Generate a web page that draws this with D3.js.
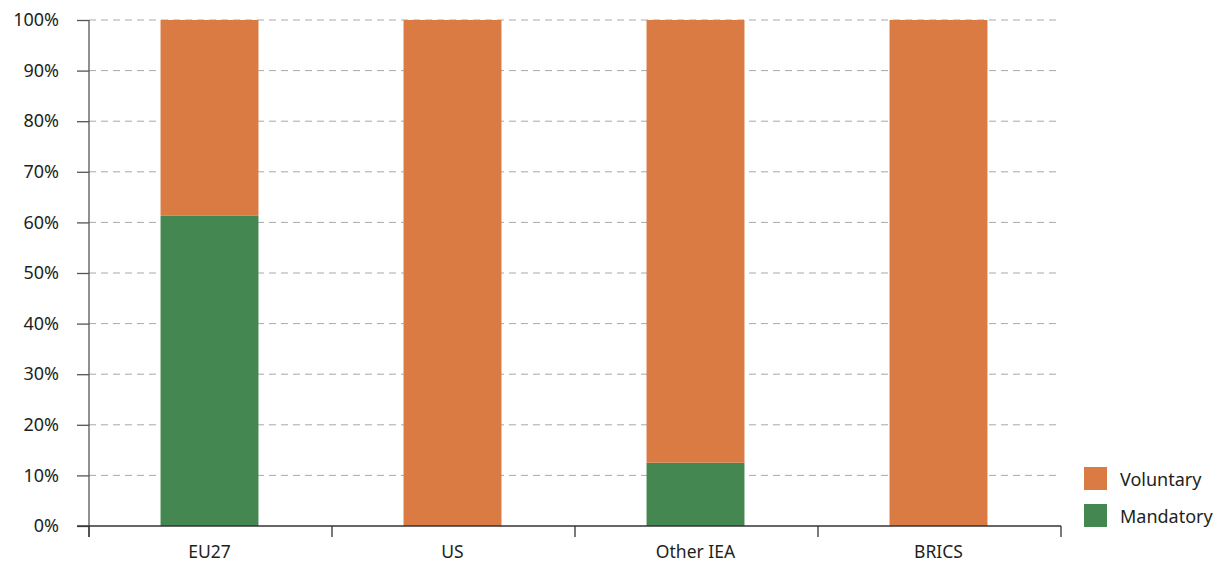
<!DOCTYPE html>
<html><head><meta charset="utf-8">
<script src="https://cdn.jsdelivr.net/npm/d3@7"></script>
<style>body{margin:0;background:#fff;} text{font-family:"Noto Sans",sans-serif;fill:#231f20;}</style>
</head><body><svg id="c" width="1217" height="562"></svg>
<script>
const categories = ["EU27","US","Other IEA","BRICS"];
const mandatory = [61.3, 0, 12.5, 0];
const voluntary = [38.7, 100, 87.5, 100];
const seriesNames = ["Voluntary","Mandatory"];
const yTicks = [0,10,20,30,40,50,60,70,80,90,100];
const colors = {Voluntary:"#D97B42", Mandatory:"#458751"};

const svg = d3.select("#c");
const L=89, R=1061, T=20, B=526;
const x = d3.scaleBand().domain(categories).range([L,R]).padding(0);
const y = d3.scaleLinear().domain([0,100]).range([B,T]);

// gridlines
svg.append("g").selectAll("line").data(yTicks.filter(d=>d>0)).join("line")
  .attr("x1",L).attr("x2",R).attr("y1",d=>y(d)).attr("y2",d=>y(d))
  .attr("stroke","#a7a9ac").attr("stroke-width",1).attr("stroke-dasharray","7,5");

const bw = x.bandwidth()*0.403;
const data = categories.map((c,i)=>({c, m:mandatory[i], v:voluntary[i]}));
const g = svg.append("g");
const bx = d=>x(d.c)+x.bandwidth()/2-bw/2-1;
g.selectAll("rect.m").data(data).join("rect").attr("class","m")
  .attr("x",bx).attr("width",bw)
  .attr("y",d=>y(d.m)).attr("height",d=>B-y(d.m)).attr("fill",colors.Mandatory);
g.selectAll("rect.v").data(data).join("rect").attr("class","v")
  .attr("x",bx).attr("width",bw)
  .attr("y",d=>y(d.m+d.v)).attr("height",d=>y(d.m)-y(d.m+d.v)).attr("fill",colors.Voluntary);

// y axis
const ya = svg.append("g").attr("transform",`translate(${L},0)`)
  .call(d3.axisLeft(y).tickValues(yTicks).tickFormat(d=>d+"%").tickSize(12).tickPadding(18));
ya.select(".domain").attr("stroke","#555").attr("stroke-width",1.3).attr("d",`M0,${B+11}V${T}`);
ya.selectAll(".tick line").attr("stroke","#555").attr("stroke-width",1.3);
ya.selectAll("text").style("font-size","18px").attr("fill","#231f20");

// x axis
const xa = svg.append("g").attr("transform",`translate(0,${B})`);
xa.append("line").attr("x1",L-12).attr("x2",R).attr("stroke","#333").attr("stroke-width",1.3);
const bounds = categories.map(c=>x(c)).concat([R]);
xa.selectAll("line.t").data(bounds).join("line").attr("class","t")
  .attr("x1",d=>d).attr("x2",d=>d).attr("y1",0).attr("y2",11).attr("stroke","#333").attr("stroke-width",1.3);
xa.selectAll("text").data(categories).join("text")
  .attr("x",d=>x(d)+x.bandwidth()/2-1).attr("y",32).attr("text-anchor","middle")
  .style("font-size","17.5px").text(d=>d);

// legend
const lg = svg.append("g").attr("transform","translate(1084,467)");
seriesNames.forEach((s,i)=>{
  lg.append("rect").attr("x",0).attr("y",i*37).attr("width",23).attr("height",23).attr("fill",colors[s]);
  lg.append("text").attr("x",36).attr("y",i*37+19).style("font-size","18px").text(s);
});
</script></body></html>
